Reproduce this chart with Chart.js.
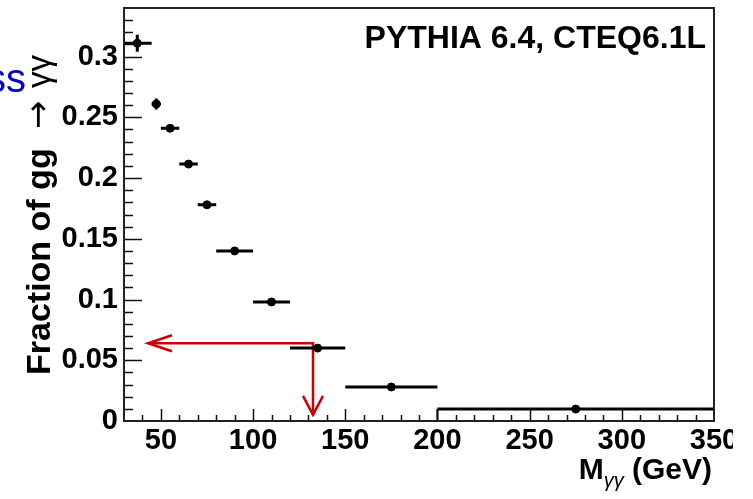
<!DOCTYPE html>
<html>
<head>
<meta charset="utf-8">
<script src="https://cdn.jsdelivr.net/npm/chart.js@4.4.1/dist/chart.umd.min.js"></script>
<style>
  html, body { margin: 0; padding: 0; background: #fff; }
  #wrap { position: relative; width: 733px; height: 499px; }
</style>
</head>
<body>
<div id="wrap"><canvas id="c"></canvas></div>
<script>
// ─── DATA ─────────────────────────────────────────────────────────────────────
const binLow = [30, 45, 50, 60, 70, 80, 100, 120, 150, 200];
const binHigh = [45, 50, 60, 70, 80, 100, 120, 150, 200, 350];
const binMean = [37.2, 47.5, 55, 65, 75, 90, 110, 135, 175, 275];
const fraction = [0.311, 0.261, 0.241, 0.2115, 0.178, 0.140, 0.098, 0.060, 0.028, 0.0098];
const fractionErr = [0.007, 0.0045, 0.002, 0.002, 0.002, 0.002, 0.0015, 0.0015, 0.001, 0.0005];

const xTicks = [50, 100, 150, 200, 250, 300, 350];
const yTicks = [0, 0.05, 0.1, 0.15, 0.2, 0.25, 0.3];
const yTickLabels = ['0', '0.05', '0.1', '0.15', '0.2', '0.25', '0.3'];

// red guide: from the y axis over to 132.5 GeV, then down to the x axis
const arrowX = [43, 132.5, 132.5];
const arrowY = [0.064, 0.064, 0.005];

const FONT = '"Liberation Sans", Arial, Helvetica, sans-serif';

// ─── PLUGINS ──────────────────────────────────────────────────────────────────

const errorBars = {
  id: 'errorBars',
  afterDatasetsDraw(chart) {
    const { ctx, chartArea: a, scales: { x, y } } = chart;
    ctx.save();
    ctx.beginPath();
    ctx.rect(a.left, a.top, a.right - a.left, a.bottom - a.top);
    ctx.clip();
    ctx.strokeStyle = '#000';
    ctx.lineWidth = 3;
    ctx.lineCap = 'butt';
    for (let i = 0; i < fraction.length; i++) {
      const py = y.getPixelForValue(fraction[i]);
      const px = x.getPixelForValue(binMean[i]);
      ctx.beginPath();
      ctx.moveTo(x.getPixelForValue(binLow[i]), py);
      ctx.lineTo(x.getPixelForValue(binHigh[i]), py);
      ctx.moveTo(px, y.getPixelForValue(fraction[i] - fractionErr[i]));
      ctx.lineTo(px, y.getPixelForValue(fraction[i] + fractionErr[i]));
      ctx.stroke();
    }
    ctx.restore();
  }
};

function arrowHead(ctx, tx, ty, dx, dy, len, half) {
  // dx,dy = unit direction the arrow points to
  const bx = tx - dx * len, by = ty - dy * len;
  ctx.beginPath();
  ctx.moveTo(bx - dy * half, by + dx * half);
  ctx.lineTo(tx, ty);
  ctx.lineTo(bx + dy * half, by - dx * half);
  ctx.stroke();
}

const frameAndText = {
  id: 'frameAndText',
  afterDraw(chart) {
    const { ctx, chartArea: a, scales: { x, y } } = chart;
    ctx.save();

    // arrow heads on the red guide
    ctx.strokeStyle = '#cc0000';
    ctx.lineWidth = 2.5;
    arrowHead(ctx, x.getPixelForValue(arrowX[0]), y.getPixelForValue(arrowY[0]), -1, 0, 24, 8);
    arrowHead(ctx, x.getPixelForValue(arrowX[2]), y.getPixelForValue(arrowY[2]), 0, 1, 19, 10);

    // inner ticks
    ctx.strokeStyle = '#111';
    ctx.lineWidth = 1.5;
    ctx.beginPath();
    for (let v = 40; v < 350; v += 10) {
      const px = Math.round(x.getPixelForValue(v)) + 0.5;
      const len = v % 50 === 0 ? 12 : 6;
      ctx.moveTo(px, a.bottom);
      ctx.lineTo(px, a.bottom - len);
    }
    for (let k = 1; k <= 33; k++) {
      const py = Math.round(y.getPixelForValue(k / 100)) + 0.5;
      const len = k % 5 === 0 ? 18 : 9;
      ctx.moveTo(a.left, py);
      ctx.lineTo(a.left + len, py);
    }
    ctx.stroke();

    // frame
    ctx.lineWidth = 2;
    ctx.strokeStyle = '#222';
    ctx.strokeRect(a.left, a.top, a.right - a.left, a.bottom - a.top);

    // label inside the frame
    ctx.fillStyle = '#000';
    ctx.textBaseline = 'alphabetic';
    ctx.textAlign = 'right';
    ctx.font = 'bold 32px ' + FONT;
    ctx.fillText('PYTHIA 6.4, CTEQ6.1L', a.right - 8, 48);

    // x title:  M_γγ (GeV)
    ctx.textAlign = 'left';
    ctx.font = 'bold 30px ' + FONT;
    const wGeV = ctx.measureText(' (GeV)').width;
    const wM = ctx.measureText('M').width;
    ctx.font = 'italic 20px ' + FONT;
    const wSub = ctx.measureText('γγ').width;
    let tx = 712 - wGeV - wSub - wM;
    ctx.font = 'bold 30px ' + FONT;
    ctx.fillText('M', tx, 479);
    tx += wM;
    ctx.font = 'italic 20px ' + FONT;
    ctx.fillText('γγ', tx, 487);
    tx += wSub;
    ctx.font = 'bold 30px ' + FONT;
    ctx.fillText(' (GeV)', tx, 479);

    // y title:  Fraction of gg → γγ  (reads bottom to top)
    ctx.translate(50, 375);
    ctx.rotate(-Math.PI / 2);
    ctx.font = 'bold 34px ' + FONT;
    ctx.fillText('Fraction of gg', 0, 0);
    ctx.font = '34px "DejaVu Sans", sans-serif';
    ctx.fillText('→', 246, -1);
    ctx.font = '33px ' + FONT;
    ctx.fillText('γγ', 287, 0);
    ctx.restore();

    // cut-off slide word on the far left
    ctx.save();
    ctx.fillStyle = '#0000cc';
    ctx.font = '40px ' + FONT;
    ctx.textAlign = 'right';
    ctx.fillText('ss', 26, 92);
    ctx.restore();
  }
};

// ─── CHART ────────────────────────────────────────────────────────────────────

const points = binMean.map((v, i) => ({ x: v, y: fraction[i] }));
const guide = arrowX.map((v, i) => ({ x: v, y: arrowY[i] }));
const lastEdge = [
  { x: binLow[binLow.length - 1], y: 0 },
  { x: binLow[binLow.length - 1], y: fraction[fraction.length - 1] }
];

new Chart(document.getElementById('c'), {
  type: 'scatter',
  data: {
    datasets: [
      {
        data: guide,
        showLine: true,
        borderColor: '#cc0000',
        borderWidth: 2.5,
        pointRadius: 0,
        fill: false
      },
      {
        data: lastEdge,
        showLine: true,
        borderColor: '#000',
        borderWidth: 2,
        pointRadius: 0
      },
      {
        data: points,
        backgroundColor: '#000',
        borderColor: '#000',
        pointRadius: 4,
        pointHoverRadius: 4
      }
    ]
  },
  options: {
    responsive: true,
    maintainAspectRatio: false,
    animation: false,
    events: [],
    layout: { padding: { left: 0, right: 19, top: 8, bottom: 0 } },
    plugins: { legend: { display: false }, tooltip: { enabled: false } },
    scales: {
      x: {
        type: 'linear',
        min: 30,
        max: 350,
        grid: { display: false, drawTicks: false },
        border: { display: false },
        afterBuildTicks: s => { s.ticks = xTicks.map(v => ({ value: v })); },
        afterFit: s => { s.height = 78; s.paddingLeft = 0; s.paddingRight = 0; },
        ticks: {
          autoSkip: false,
          maxRotation: 0,
          padding: 3,
          color: '#000',
          font: { family: FONT, size: 29, weight: 'bold' },
          callback: v => String(v)
        }
      },
      y: {
        type: 'linear',
        min: 0,
        max: 0.34,
        grid: { display: false, drawTicks: false },
        border: { display: false },
        afterBuildTicks: s => { s.ticks = yTicks.map(v => ({ value: v })); },
        afterFit: s => { s.width = 124; s.paddingTop = 0; s.paddingBottom = 0; },
        ticks: {
          autoSkip: false,
          padding: 6,
          color: '#000',
          font: { family: FONT, size: 29, weight: 'bold' },
          callback: (v, i) => yTickLabels[i]
        }
      }
    }
  },
  plugins: [errorBars, frameAndText]
});
</script>
</body>
</html>
